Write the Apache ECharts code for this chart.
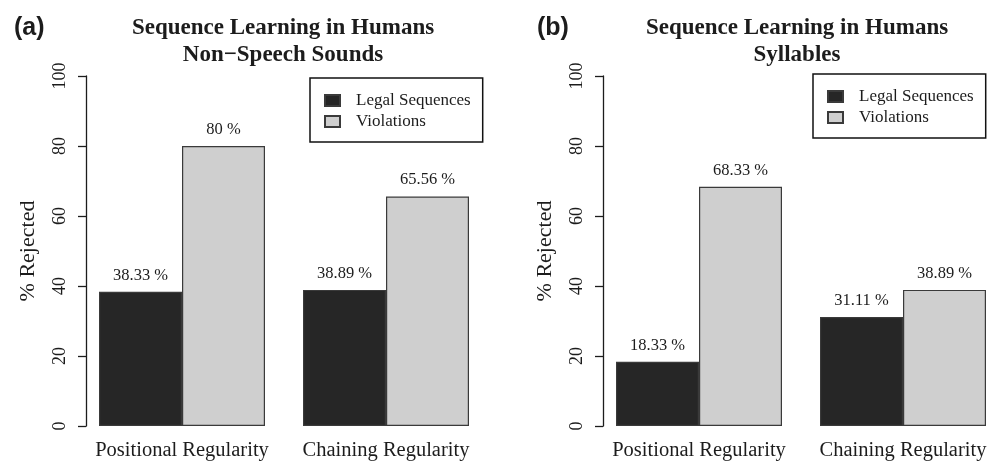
<!DOCTYPE html>
<html>
<head>
<meta charset="utf-8">
<script src="https://cdn.jsdelivr.net/npm/echarts@6/dist/echarts.min.js"></script>
<style>
    html, body { margin: 0; padding: 0; background: #fff; overflow: hidden; }
    #chart { width: 1012px; height: 461px; }
</style>
</head>
<body>
<div id="chart"></div>
<script>
    'use strict';

    var categories = ['Positional Regularity', 'Chaining Regularity'];
    var seriesNames = ['Legal Sequences', 'Violations'];
    var yTicks = [0, 20, 40, 60, 80, 100];

    var soundsLegal = [38.33, 38.89];
    var soundsViolations = [80, 65.56];
    var syllablesLegal = [18.33, 31.11];
    var syllablesViolations = [68.33, 38.89];

    var SERIF = '"Liberation Serif", "Times New Roman", serif';
    var INK = '#1c1c1c';
    var DARK = '#262626';
    var LIGHT = '#cfcfcf';

    // p: {idx, axisX, titleX, letterX, legendX, legendY}
    function buildPanel(p, titleText, letter, legal, violations) {
        var idx = p.idx;
        // grid is a bit wider than the drawn axis so groups sit where the original had them
        var grid = {left: p.axisX - 6, top: 76, width: 408, height: 351};
        var xAxis = {
            type: 'category',
            gridIndex: idx,
            data: categories,
            axisLine: {show: false},
            axisTick: {show: false},
            axisLabel: {interval: 0, margin: 14, color: INK, fontFamily: SERIF, fontSize: 20.5}
        };
        var yAxis = {
            type: 'value',
            gridIndex: idx,
            min: yTicks[0],
            max: yTicks[yTicks.length - 1],
            interval: 20,
            offset: -6,
            splitLine: {show: false},
            axisLine: {show: true, lineStyle: {color: INK, width: 1.3}},
            axisTick: {show: true, length: 8, lineStyle: {color: INK, width: 1.3}},
            axisLabel: {rotate: 90, margin: 17, color: INK, fontFamily: SERIF, fontSize: 18},
            name: '% Rejected',
            nameLocation: 'middle',
            nameRotate: 90,
            nameGap: 47,
            nameTextStyle: {color: INK, fontFamily: SERIF, fontSize: 22}
        };
        var label = {
            show: true,
            position: 'top',
            distance: 8,
            color: INK,
            fontFamily: SERIF,
            fontSize: 16.5,
            formatter: function (d) { return d.value + ' %'; }
        };
        var series = [legal, violations].map(function (values, k) {
            return {
                name: seriesNames[k],
                type: 'bar',
                xAxisIndex: idx,
                yAxisIndex: idx,
                data: values,
                barWidth: 83,
                barGap: '0%',
                itemStyle: {color: k === 0 ? DARK : LIGHT, borderColor: '#3a3a3a', borderWidth: 1.2},
                label: label
            };
        });
        var titles = [{
            text: titleText,
            left: p.titleX,
            top: 10,
            textAlign: 'center',
            textStyle: {fontFamily: SERIF, fontWeight: 'bold', fontSize: 23, lineHeight: 27, color: INK}
        }, {
            text: letter,
            left: p.letterX,
            top: 11,
            textStyle: {fontFamily: '"Liberation Sans", Arial, sans-serif', fontWeight: 'bold', fontSize: 25, color: INK}
        }];
        var legend = {
            data: seriesNames,
            orient: 'vertical',
            left: p.legendX,
            top: p.legendY,
            padding: [14, 12, 12, 14],
            itemWidth: 15,
            itemHeight: 11,
            itemGap: 4,
            borderColor: '#111',
            borderWidth: 1.5,
            icon: 'rect',
            textStyle: {fontFamily: SERIF, fontSize: 17, color: INK, padding: [0, 0, 0, 11]}
        };
        return {grid: grid, xAxis: xAxis, yAxis: yAxis, series: series, titles: titles, legend: legend};
    }

    function paint() {
        var a = buildPanel({idx: 0, axisX: 86, titleX: 278, letterX: 9, legendX: 310, legendY: 78},
            'Sequence Learning in Humans\nNon\u2212Speech Sounds', '(a)', soundsLegal, soundsViolations);
        var b = buildPanel({idx: 1, axisX: 603, titleX: 792, letterX: 532, legendX: 813, legendY: 74},
            'Sequence Learning in Humans\nSyllables', '(b)', syllablesLegal, syllablesViolations);
        var option = {
            animation: false,
            backgroundColor: '#fff',
            title: a.titles.concat(b.titles),
            legend: [a.legend, b.legend],
            grid: [a.grid, b.grid],
            xAxis: [a.xAxis, b.xAxis],
            yAxis: [a.yAxis, b.yAxis],
            series: a.series.concat(b.series)
        };
        var chart = echarts.init(document.getElementById('chart'));
        chart.setOption(option);
    }

    paint();
</script>
</body>
</html>
